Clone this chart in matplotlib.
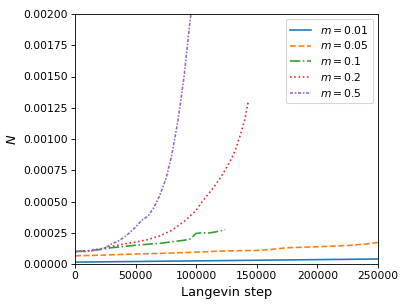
import matplotlib
matplotlib.use("Agg")
import matplotlib.pyplot as plt
from matplotlib.ticker import FormatStrFormatter

labels = ["$m = 0.01$", "$m = 0.05$", "$m = 0.1$", "$m = 0.2$", "$m = 0.5$"]

x_001 = [0, 50000, 100000, 150000, 200000, 250000]
y_001 = [0.15e-4, 0.2e-4, 0.25e-4, 0.3e-4, 0.35e-4, 0.4e-4]

x_005 = [0, 25000, 50000, 75000, 100000, 125000, 150000, 160000, 175000, 200000, 225000, 240000, 250000]
y_005 = [0.65e-4, 0.72e-4, 0.8e-4, 0.86e-4, 0.95e-4, 1.05e-4, 1.08e-4, 1.15e-4, 1.3e-4, 1.38e-4, 1.48e-4, 1.6e-4, 1.72e-4]

x_01 = [0, 10000, 20000, 30000, 40000, 50000, 60000, 70000, 80000, 90000, 95000, 100000, 105000, 110000, 115000, 120000, 124000]
y_01 = [1.0e-4, 1.05e-4, 1.15e-4, 1.3e-4, 1.4e-4, 1.5e-4, 1.58e-4, 1.65e-4, 1.78e-4, 1.9e-4, 2.0e-4, 2.45e-4, 2.5e-4, 2.48e-4, 2.55e-4, 2.65e-4, 2.75e-4]

x_02 = [0, 10000, 20000, 30000, 40000, 50000, 60000, 70000, 80000, 90000, 100000, 105000, 110000, 115000, 120000, 125000, 130000, 133000, 136000, 140000, 143000]
y_02 = [1.0e-4, 1.05e-4, 1.2e-4, 1.4e-4, 1.6e-4, 1.75e-4, 1.95e-4, 2.25e-4, 2.7e-4, 3.4e-4, 4.3e-4, 5.0e-4, 5.6e-4, 6.2e-4, 6.9e-4, 7.7e-4, 8.6e-4, 9.3e-4, 10.2e-4, 11.5e-4, 13.0e-4]

x_05 = [0, 10000, 20000, 25000, 30000, 35000, 40000, 45000, 50000, 55000, 60000, 65000, 70000, 75000, 80000, 85000, 90000, 95000, 97000]
y_05 = [1.0e-4, 1.0e-4, 1.15e-4, 1.3e-4, 1.6e-4, 1.8e-4, 2.1e-4, 2.5e-4, 2.95e-4, 3.5e-4, 3.8e-4, 4.5e-4, 5.5e-4, 6.8e-4, 8.8e-4, 11.5e-4, 15.0e-4, 19.5e-4, 21.0e-4]

fig = plt.figure(figsize=(409 / 77, 307 / 77), dpi=77)
ax = fig.add_axes([75 / 409, 43 / 307, 303 / 409, 250 / 307])

ax.plot(x_001, y_001, color="#1f77b4", linestyle="-", lw=1.5, label=labels[0])
ax.plot(x_005, y_005, color="#ff7f0e", linestyle="--", lw=1.5, label=labels[1])
ax.plot(x_01, y_01, color="#2ca02c", linestyle="-.", lw=1.5, label=labels[2])
ax.plot(x_02, y_02, color="#d62728", linestyle=":", lw=1.5, label=labels[3])
ax.plot(x_05, y_05, color="#9467bd", linestyle=(0, (2, 1, 1, 1)), lw=1.5, label=labels[4])

ax.set_xlim(0, 250000)
ax.set_ylim(0, 0.002)
ax.set_xticks([0, 50000, 100000, 150000, 200000, 250000])
ax.set_yticks([i * 0.00025 for i in range(9)])
ax.yaxis.set_major_formatter(FormatStrFormatter("%.5f"))
ax.tick_params(labelsize=10)
ax.set_xlabel("Langevin step", fontsize=12)
ax.set_ylabel("$N$", fontsize=12)
ax.legend(loc="upper right", fontsize=10, labelspacing=0.35)

fig.savefig("out.png", dpi=77)
